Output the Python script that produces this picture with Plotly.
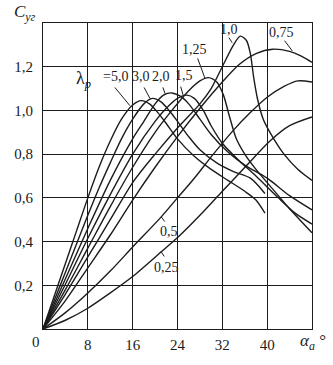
import plotly.graph_objects as go

# Lift coefficient C_yr versus angle of attack for wings of different aspect ratio
aspect_labels = ["5,0", "3,0", "2,0", "1,5", "1,25", "1,0", "0,75", "0,5", "0,25"]

alpha_50 = [0, 2, 4, 6, 8, 10, 12, 14, 16, 17.5, 19, 20.5, 22, 24, 27, 30, 33, 36, 38, 39.6]
cy_50 = [0, 0.15, 0.3, 0.45, 0.6, 0.74, 0.86, 0.96, 1.025, 1.045, 1.03, 0.99, 0.94, 0.87, 0.79, 0.73, 0.68, 0.63, 0.59, 0.53]

alpha_30 = [0, 2, 4, 6, 8, 10, 12, 14, 16, 18, 19.5, 21, 22.5, 24, 26, 28, 31, 34, 37, 39.6]
cy_30 = [0, 0.13, 0.26, 0.39, 0.52, 0.645, 0.76, 0.87, 0.96, 1.03, 1.055, 1.04, 1.0, 0.95, 0.88, 0.82, 0.76, 0.72, 0.69, 0.62]

alpha_20 = [0, 4, 8, 12, 16, 18, 20, 21.5, 23, 24.5, 26, 28, 30, 33, 36, 40, 44, 48]
cy_20 = [0, 0.23, 0.46, 0.68, 0.87, 0.95, 1.03, 1.07, 1.08, 1.065, 1.03, 0.96, 0.89, 0.81, 0.75, 0.69, 0.61, 0.545]

alpha_15 = [0, 4, 8, 12, 16, 20, 22, 24, 25.7, 27, 28.6, 30, 32, 35, 38, 42, 45, 48]
cy_15 = [0, 0.205, 0.415, 0.615, 0.8, 0.95, 1.01, 1.055, 1.07, 1.055, 1.0, 0.93, 0.85, 0.77, 0.7, 0.6, 0.53, 0.48]

alpha_125 = [0, 4, 8, 12, 16, 20, 23, 26, 28, 29.5, 31, 32.2, 33.3, 34.5, 36, 38, 41, 44, 48]
cy_125 = [0, 0.18, 0.37, 0.56, 0.74, 0.9, 1.0, 1.09, 1.135, 1.15, 1.13, 1.07, 0.97, 0.87, 0.8, 0.73, 0.64, 0.55, 0.44]

alpha_10 = [0, 4, 8, 12, 16, 20, 24, 28, 30, 32, 34, 35.2, 36.3, 37, 37.6, 38.3, 39.3, 40.5, 43, 45.5, 48]
cy_10 = [0, 0.16, 0.33, 0.5, 0.67, 0.8, 0.92, 1.03, 1.1, 1.2, 1.3, 1.34, 1.32, 1.26, 1.15, 1.05, 0.96, 0.9, 0.8, 0.73, 0.68]

alpha_075 = [0, 4, 8, 12, 16, 20, 24, 28, 32, 35, 38, 41, 44, 46, 48]
cy_075 = [0, 0.13, 0.28, 0.43, 0.59, 0.74, 0.88, 1.01, 1.13, 1.21, 1.26, 1.28, 1.27, 1.25, 1.22]

alpha_05 = [0, 4, 8, 12, 16, 21.1, 24, 27, 30.4, 34, 37, 40, 43, 45.5, 48]
cy_05 = [0, 0.075, 0.165, 0.265, 0.375, 0.513, 0.6, 0.69, 0.8, 0.91, 0.99, 1.06, 1.11, 1.135, 1.13]

alpha_025 = [0, 4, 8, 12, 16, 21.1, 24.5, 28, 32, 36.4, 40.5, 44, 48]
cy_025 = [0, 0.04, 0.095, 0.165, 0.24, 0.353, 0.43, 0.52, 0.63, 0.75, 0.86, 0.93, 0.97]

curves = [
    (alpha_50, cy_50), (alpha_30, cy_30), (alpha_20, cy_20), (alpha_15, cy_15),
    (alpha_125, cy_125), (alpha_10, cy_10), (alpha_075, cy_075), (alpha_05, cy_05),
    (alpha_025, cy_025),
]

x_ticks = [8, 16, 24, 32, 40]
x_tick_text = ["8", "16", "24", "32", "40"]
y_ticks = [0.2, 0.4, 0.6, 0.8, 1.0, 1.2]
y_tick_text = ["0,2", "0,4", "0,6", "0,8", "1,0", "1,2"]

ink = "#1c1c1c"
serif = "Liberation Serif"

fig = go.Figure()
for (xs, ys), name in zip(curves, aspect_labels):
    fig.add_trace(go.Scatter(
        x=xs, y=ys, mode="lines", name=name,
        line=dict(color=ink, width=1.4, shape="spline", smoothing=0.8),
        hoverinfo="skip", showlegend=False,
    ))

# Curve labels: text, label centre (alpha, C), leader start, leader end on the curve
curve_labels = [
    ("=5,0", (13.0, 1.156), (12.6, 1.112), (15.5, 1.022)),
    ("3,0", (17.4, 1.156), (17.9, 1.112), (19.1, 1.054)),
    ("2,0", (21.0, 1.156), (21.3, 1.112), (21.8, 1.076)),
    ("1,5", (25.2, 1.16), (24.5, 1.116), (25.0, 1.07)),
    ("1,25", (27.0, 1.28), (27.5, 1.245), (28.9, 1.147)),
    ("1,0", (33.2, 1.37), (33.0, 1.34), (33.75, 1.31)),
    ("0,75", (42.5, 1.357), (42.9, 1.326), (44.5, 1.272)),
    ("0,5", (22.5, 0.446), (21.9, 0.485), (21.1, 0.513)),
    ("0,25", (22.0, 0.28), (21.8, 0.325), (21.1, 0.353)),
]
annotations = []
for text, (lx, ly), (sx, sy), (ex, ey) in curve_labels:
    annotations.append(dict(
        x=ex, y=ey, ax=sx, ay=sy, xref="x", yref="y", axref="x", ayref="y",
        text="", showarrow=True, arrowhead=0, arrowwidth=1, arrowcolor=ink,
    ))
    annotations.append(dict(
        x=lx, y=ly, xref="x", yref="y", text=text, showarrow=False,
        font=dict(family=serif, size=14, color=ink),
    ))

# lambda symbol in front of the first label
annotations.append(dict(
    x=7.2, y=1.14, xref="x", yref="y", text="λ<sub><i>р</i></sub>", showarrow=False,
    font=dict(family=serif, size=18, color=ink),
))
# axis titles and the common origin label
annotations.append(dict(
    x=0, y=1.4, xref="x", yref="y", text="<i>C</i><sub><i>уг</i></sub>", showarrow=False,
    xshift=-18, yshift=10, font=dict(family=serif, size=17, color=ink),
))
annotations.append(dict(
    x=48, y=0, xref="x", yref="y", text="<i>α</i><sub><i>a</i></sub> °", showarrow=False,
    xshift=1, yshift=-13, font=dict(family=serif, size=17, color=ink),
))
annotations.append(dict(
    x=0, y=0, xref="x", yref="y", text="0", showarrow=False,
    xshift=-7, yshift=-13, font=dict(family=serif, size=15, color=ink),
))

fig.update_layout(
    width=333, height=365,
    margin=dict(l=43, r=21, t=23, b=28),
    paper_bgcolor="white", plot_bgcolor="white",
    annotations=annotations,
    font=dict(family=serif, size=15, color=ink),
)
fig.update_xaxes(
    range=[0, 48], tickvals=x_ticks, ticktext=x_tick_text,
    showgrid=True, gridcolor=ink, gridwidth=1,
    showline=True, linecolor=ink, linewidth=1.2, mirror=True,
    zeroline=False, ticks="", ticklen=0, fixedrange=True, ticklabelstandoff=2,
    tickfont=dict(family=serif, size=15, color=ink),
)
fig.update_yaxes(
    range=[0, 1.4], tickvals=y_ticks, ticktext=y_tick_text,
    showgrid=True, gridcolor=ink, gridwidth=1,
    showline=True, linecolor=ink, linewidth=1.2, mirror=True,
    zeroline=False, ticks="", ticklen=0, fixedrange=True, ticklabelstandoff=6,
    tickfont=dict(family=serif, size=15, color=ink),
)

fig.write_html("out.html")
